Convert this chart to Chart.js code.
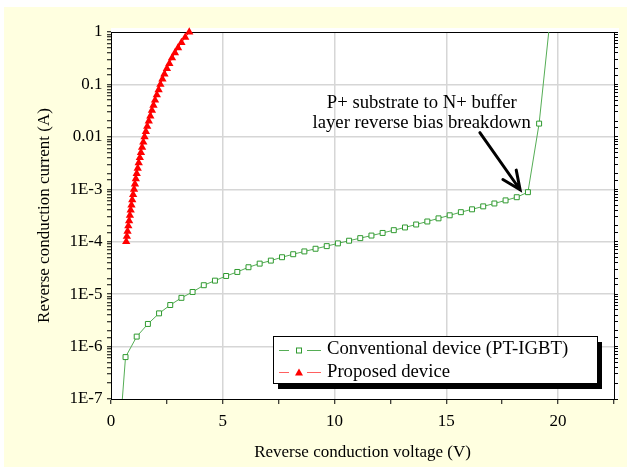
<!DOCTYPE html>
<html>
<head>
<meta charset="utf-8">
<script src="https://cdn.jsdelivr.net/npm/chart.js@4/dist/chart.umd.min.js"></script>
<style>
  html, body { margin: 0; padding: 0; background: #fff; }
  #wrap { width: 631px; height: 473px; }
</style>
</head>
<body>
<div id="wrap"><canvas id="myChart" width="631" height="473"></canvas></div>
<script>
// Conventional device (PT-IGBT): voltage (V) and current (A)
var greenV = [0.15, 0.65, 1.15, 1.65, 2.15, 2.65, 3.15, 3.65, 4.15, 4.65, 5.15, 5.65, 6.15, 6.65, 7.15, 7.65, 8.15,
    8.65, 9.15, 9.65, 10.15, 10.65, 11.15, 11.65, 12.15, 12.65, 13.15, 13.65, 14.15, 14.65, 15.15, 15.65, 16.15,
    16.65, 17.15, 17.65, 18.15, 18.65, 19.15, 19.65];
var greenI = [1e-9, 6.3e-7, 1.55e-6, 2.7e-6, 4.3e-6, 6.2e-6, 8.5e-6, 1.10e-5, 1.48e-5, 1.81e-5, 2.22e-5, 2.65e-5,
    3.26e-5, 3.82e-5, 4.36e-5, 5.06e-5, 5.77e-5,
    6.53e-5, 7.34e-5, 8.24e-5, 9.29e-5, 1.045e-4, 1.17e-4, 1.31e-4, 1.47e-4, 1.66e-4, 1.87e-4, 2.13e-4, 2.43e-4,
    2.79e-4, 3.19e-4, 3.66e-4, 4.15e-4, 4.72e-4, 5.36e-4, 6.14e-4, 7.06e-4, 8.81e-4, 1.79e-2, 1.9];

// Proposed device
var redV = [0.68, 0.71, 0.74, 0.775, 0.81, 0.845, 0.88, 0.915, 0.95, 0.99,
    1.03, 1.07, 1.11, 1.15, 1.195, 1.24, 1.29, 1.34, 1.39, 1.445,
    1.50, 1.56, 1.62, 1.69, 1.76, 1.83, 1.90, 1.97, 2.05, 2.13,
    2.21, 2.30, 2.39, 2.50, 2.61, 2.73, 2.86, 3.00, 3.15, 3.32, 3.50];
var redI = [1.0e-4, 1.26e-4, 1.58e-4, 2.0e-4, 2.5e-4, 3.2e-4, 4.0e-4, 5.0e-4, 6.3e-4, 7.9e-4,
    1.0e-3, 1.26e-3, 1.58e-3, 2.0e-3, 2.5e-3, 3.2e-3, 4.0e-3, 5.0e-3, 6.3e-3, 7.9e-3,
    1.0e-2, 1.26e-2, 1.58e-2, 2.0e-2, 2.5e-2, 3.2e-2, 4.0e-2, 5.0e-2, 6.3e-2, 7.9e-2,
    0.1, 0.126, 0.158, 0.2, 0.25, 0.32, 0.4, 0.5, 0.63, 0.79, 1.0];

var seriesNames = ['Conventional device (PT-IGBT)', 'Proposed device'];
var xTickLabels = ['0', '5', '10', '15', '20'];
var yTickLabels = ['1E-7', '1E-6', '1E-5', '1E-4', '1E-3', '0.01', '0.1', '1'];
var noteLines = ['P+ substrate to N+ buffer', 'layer reverse bias breakdown'];

var SERIF = '"Liberation Serif", "Times New Roman", serif';
var GREEN_LINE = '#55ad55';
var GREEN_PT = '#2f9a2f';
var RED = '#ff0000';

function toPoints(xs, ys) {
    return xs.map(function (x, i) { return {x: x, y: ys[i]}; });
}

function decade(v) {
    var e = Math.log10(v);
    return Math.abs(e - Math.round(e)) < 1e-6 ? Math.round(e) : null;
}

// page background, plot frame, legend and annotation
var decorPlugin = {
    id: 'decor',
    beforeDraw: function (chart) {
        var ctx = chart.ctx, ca = chart.chartArea;
        ctx.save();
        ctx.fillStyle = '#ffffff';
        ctx.fillRect(0, 0, chart.width, chart.height);
        ctx.fillStyle = '#ffffe0';
        ctx.fillRect(4, 7, 623, 460);
        ctx.fillStyle = '#ffffff';
        ctx.fillRect(ca.left, ca.top - 4, ca.right - ca.left + 5, ca.bottom - ca.top + 4);
        ctx.restore();
    },
    beforeDatasetsDraw: function (chart) {
        var ctx = chart.ctx, ca = chart.chartArea;
        ctx.save();
        ctx.strokeStyle = '#000';
        ctx.lineWidth = 1;
        ctx.beginPath();
        ctx.moveTo(ca.left, ca.top + 0.5);
        ctx.lineTo(ca.right, ca.top + 0.5);
        ctx.stroke();
        ctx.restore();
    },
    afterDraw: function (chart) {
        var ctx = chart.ctx, ca = chart.chartArea;
        var xs = chart.scales.x, ys = chart.scales.y;
        ctx.save();

        // annotation text
        ctx.fillStyle = '#000';
        ctx.font = '18.7px ' + SERIF;
        ctx.textAlign = 'center';
        ctx.textBaseline = 'middle';
        var tx = xs.getPixelForValue(13.9);
        ctx.fillText(noteLines[0], tx, ys.getPixelForValue(0.045));
        ctx.fillText(noteLines[1], tx, ys.getPixelForValue(0.018));

        // arrow
        var x1 = xs.getPixelForValue(16.5), y1 = ys.getPixelForValue(0.012);
        var x2 = xs.getPixelForValue(18.3), y2 = ys.getPixelForValue(9.8e-4);
        var ang = Math.atan2(y2 - y1, x2 - x1);
        ctx.strokeStyle = '#000';
        ctx.lineWidth = 3;
        ctx.lineCap = 'round';
        ctx.beginPath();
        ctx.moveTo(x1, y1);
        ctx.lineTo(x2, y2);
        ctx.moveTo(x2 - 20 * Math.cos(ang - 0.42), y2 - 20 * Math.sin(ang - 0.42));
        ctx.lineTo(x2, y2);
        ctx.lineTo(x2 - 20 * Math.cos(ang + 0.42), y2 - 20 * Math.sin(ang + 0.42));
        ctx.stroke();

        // legend box with shadow
        var bw = 324, bh = 47;
        var bx = ca.right - 17 - bw, by = ca.bottom - 16 - bh;
        ctx.fillStyle = '#000';
        ctx.fillRect(bx + 5, by + 6, bw, bh);
        ctx.fillStyle = '#fff';
        ctx.fillRect(bx, by, bw, bh);
        ctx.lineWidth = 1;
        ctx.lineCap = 'butt';
        ctx.strokeRect(bx + 0.5, by + 0.5, bw, bh);

        var rows = [by + 13.5, by + 36];
        var colors = [GREEN_LINE, '#ff6060'];
        ctx.font = '18.7px ' + SERIF;
        ctx.textAlign = 'left';
        for (var i = 0; i < 2; i++) {
            var ry = Math.round(rows[i]) + 0.5;
            ctx.strokeStyle = colors[i];
            ctx.beginPath();
            ctx.moveTo(bx + 6, ry);
            ctx.lineTo(bx + 16, ry);
            ctx.moveTo(bx + 34, ry);
            ctx.lineTo(bx + 48, ry);
            ctx.stroke();
            var mx = bx + 26;
            if (i === 0) {
                ctx.fillStyle = '#fff';
                ctx.strokeStyle = GREEN_PT;
                ctx.fillRect(mx - 2.5, ry - 2.5, 5, 5);
                ctx.strokeRect(mx - 2.5, ry - 2.5, 5, 5);
            } else {
                ctx.fillStyle = RED;
                ctx.beginPath();
                ctx.moveTo(mx, ry - 4);
                ctx.lineTo(mx + 4, ry + 3);
                ctx.lineTo(mx - 4, ry + 3);
                ctx.closePath();
                ctx.fill();
            }
            ctx.fillStyle = '#000';
            ctx.fillText(seriesNames[i], bx + 54, rows[i]);
        }
        ctx.restore();
    }
};

var ctx = document.getElementById('myChart').getContext('2d');
var chart = new Chart(ctx, {
    type: 'line',
    data: {
        datasets: [{
            label: seriesNames[0],
            data: toPoints(greenV, greenI),
            borderColor: GREEN_LINE,
            borderWidth: 1,
            pointStyle: 'rect',
            pointRadius: 3.5,
            pointBorderWidth: 1,
            pointBorderColor: GREEN_PT,
            pointBackgroundColor: '#fff',
            tension: 0
        }, {
            label: seriesNames[1],
            data: toPoints(redV, redI),
            borderColor: RED,
            borderWidth: 1,
            pointStyle: 'triangle',
            pointRadius: 4.8,
            pointBorderWidth: 0,
            pointBorderColor: RED,
            pointBackgroundColor: RED,
            tension: 0,
            clip: 8
        }]
    },
    options: {
        responsive: false,
        animation: false,
        layout: { padding: { top: 32, left: 0, right: 0, bottom: 0 } },
        plugins: {
            legend: { display: false },
            tooltip: { enabled: false }
        },
        scales: {
            x: {
                type: 'linear',
                min: 0,
                max: 22.5,
                afterFit: function (s) { s.height = 74; },
                border: { color: '#000', width: 1 },
                grid: {
                    color: function (c) {
                        var v = c.tick ? c.tick.value : 0;
                        return (v > 0 && v < 22.5 && v % 5 === 0) ? '#d6d6d6' : 'rgba(0,0,0,0)';
                    },
                    lineWidth: 1.5,
                    tickColor: '#000',
                    tickWidth: 1,
                    tickLength: 5
                },
                ticks: {
                    stepSize: 2.5,
                    autoSkip: false,
                    maxRotation: 0,
                    padding: 7,
                    color: '#000',
                    font: { family: SERIF, size: 17 },
                    callback: function (v) {
                        return v % 5 === 0 ? (xTickLabels[v / 5] || '') : '';
                    }
                },
                title: {
                    display: true,
                    text: 'Reverse conduction voltage (V)',
                    color: '#000',
                    font: { family: SERIF, size: 17 },
                    padding: { top: 0, bottom: 10 }
                }
            },
            y: {
                type: 'logarithmic',
                position: 'left',
                min: 1e-7,
                max: 1,
                afterFit: function (s) { s.width = 111; },
                border: { color: '#000', width: 1 },
                grid: {
                    color: function (c) {
                        var d = c.tick ? decade(c.tick.value) : null;
                        return (d !== null && d > -7 && d < 0) ? '#d6d6d6' : 'rgba(0,0,0,0)';
                    },
                    lineWidth: 1.5,
                    tickColor: '#000',
                    tickWidth: 1,
                    tickLength: 4
                },
                ticks: {
                    autoSkip: false,
                    padding: 4.5,
                    color: '#000',
                    font: { family: SERIF, size: 17 },
                    callback: function (v) {
                        var d = decade(v);
                        return d === null ? '' : (yTickLabels[d + 7] || '');
                    }
                },
                title: {
                    display: true,
                    text: 'Reverse conduction current (A)',
                    color: '#000',
                    font: { family: SERIF, size: 17 },
                    padding: { top: 34, bottom: 0 }
                }
            },
            y2: {
                type: 'logarithmic',
                position: 'right',
                min: 1e-7,
                max: 1,
                afterFit: function (s) { s.width = 17; },
                border: { color: '#000', width: 1 },
                grid: {
                    drawOnChartArea: false,
                    tickColor: '#000',
                    tickWidth: 1,
                    tickLength: 4
                },
                ticks: {
                    autoSkip: false,
                    padding: 0,
                    font: { size: 1 },
                    color: 'rgba(0,0,0,0)',
                    callback: function () { return ''; }
                }
            }
        }
    },
    plugins: [decorPlugin]
});
</script>
</body>
</html>
